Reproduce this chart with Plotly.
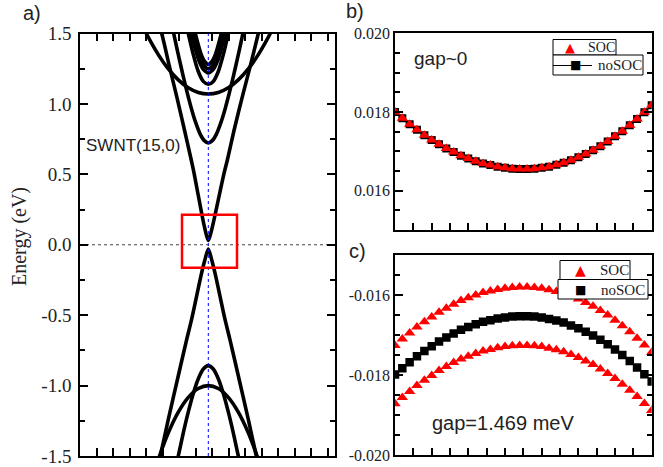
import plotly.graph_objects as go

W, H = 663, 467
SERIF = "Liberation Serif"
SANS = "Liberation Sans"

# ---------------- panel a : band structure (k in arbitrary units, E in eV) -------------
cone_c_k = [-52, -46.6, -39, -31.5, -24, -17, -14, -6.3, -3.3, 0, 3.5, 6.7, 15.5, 19, 26, 34, 42, 50, 54]
cone_c_E = [1.62, 1.5, 1.27, 1.05, 0.82, 0.6, 0.5, 0.21, 0.11, 0.03, 0.11, 0.21, 0.5, 0.6, 0.82, 1.05, 1.27, 1.5, 1.62]

bandB_k = [-39, -36, -33, -29, -25, -21, -17, -13, -8, -4, 0, 4, 8, 13, 17, 21, 25, 29, 33, 36, 39]
bandB_E = [1.65, 1.547, 1.447, 1.318, 1.194, 1.077, 0.970, 0.876, 0.784, 0.739, 0.723,
           0.739, 0.784, 0.876, 0.970, 1.077, 1.194, 1.318, 1.447, 1.547, 1.65]

bandC_k = [-68, -62, -50, -41, -30, -20, -10, 0, 10, 20, 30, 41, 50, 62, 68]
bandC_E = [1.588, 1.5, 1.35, 1.258, 1.171, 1.115, 1.081, 1.07, 1.081, 1.115, 1.171, 1.258, 1.35, 1.5, 1.588]

bandV_k = [-24, -20, -15, -10, -5, 0, 5, 10, 15, 20, 24]
bandV_E = [1.62, 1.5, 1.35, 1.23, 1.16, 1.14, 1.16, 1.23, 1.35, 1.5, 1.62]

bandD1_k = [-20, -17, -13, -9, -5, 0, 5, 9, 13, 17, 20]
bandD1_E = [1.6, 1.5, 1.39, 1.3, 1.245, 1.22, 1.245, 1.3, 1.39, 1.5, 1.6]

bandD2_k = [-18, -15, -12, -8, -4, 0, 4, 8, 12, 15, 18]
bandD2_E = [1.6, 1.5, 1.42, 1.33, 1.27, 1.25, 1.27, 1.33, 1.42, 1.5, 1.6]

bandD3_k = [-16, -13, -10, -7, -3.5, 0, 3.5, 7, 10, 13, 16]
bandD3_E = [1.6, 1.5, 1.42, 1.35, 1.3, 1.28, 1.3, 1.35, 1.42, 1.5, 1.6]

cone_v_k = [-52, -48, -40, -30, -21.7, -16.7, -7, -3.5, 0, 3.5, 7, 16.7, 21.7, 30, 40, 48, 52]
cone_v_E = [-1.62, -1.5, -1.24, -0.93, -0.675, -0.53, -0.21, -0.11, -0.03,
            -0.11, -0.21, -0.53, -0.675, -0.93, -1.24, -1.5, -1.62]

bandF_k = [-33, -30, -25, -20, -15, -10, -5, 0, 5, 10, 15, 20, 25, 30, 33]
bandF_E = [-1.59, -1.5, -1.336, -1.187, -1.056, -0.951, -0.882, -0.858,
           -0.882, -0.951, -1.056, -1.187, -1.336, -1.5, -1.59]

bandE_k = [-55, -50, -40, -30, -20, -10, 0, 10, 20, 30, 40, 50, 55]
bandE_E = [-1.635, -1.525, -1.336, -1.189, -1.084, -1.021, -1.0,
           -1.021, -1.084, -1.189, -1.336, -1.525, -1.635]

a_ticks = [-1.5, -1.0, -0.5, 0.0, 0.5, 1.0, 1.5]
a_ticktext = ["-1.5", "-1.0", "-0.5", "0.0", "0.5", "1.0", "1.5"]

# ---------------- panels b, c : zoom near the gap -------------
k_zoom = [-1.0, -0.943, -0.886, -0.829, -0.771, -0.714, -0.657, -0.6, -0.543, -0.486, -0.429, -0.371,
          -0.314, -0.257, -0.2, -0.143, -0.086, -0.029, 0.029, 0.086, 0.143, 0.2, 0.257, 0.314,
          0.371, 0.429, 0.486, 0.543, 0.6, 0.657, 0.714, 0.771, 0.829, 0.886, 0.943, 1.0]

soc_b = [0.01800, 0.01784, 0.01769, 0.01755, 0.01741, 0.01729, 0.01718, 0.01707, 0.01698, 0.01689,
         0.01682, 0.01675, 0.01669, 0.01665, 0.01661, 0.01658, 0.01656, 0.01655,
         0.01655, 0.01656, 0.01658, 0.01661, 0.01666, 0.01671, 0.01677, 0.01685, 0.01693, 0.01703,
         0.01713, 0.01725, 0.01738, 0.01751, 0.01766, 0.01782, 0.01799, 0.01817]
nosoc_b = [0.01800, 0.01784, 0.01769, 0.01755, 0.01741, 0.01729, 0.01718, 0.01707, 0.01698, 0.01689,
           0.01682, 0.01675, 0.01669, 0.01665, 0.01661, 0.01658, 0.01656, 0.01655,
           0.01655, 0.01656, 0.01658, 0.01661, 0.01666, 0.01671, 0.01677, 0.01685, 0.01693, 0.01703,
           0.01713, 0.01725, 0.01738, 0.01751, 0.01766, 0.01782, 0.01799, 0.01817]

soc_c_upper = [-0.01726, -0.01710, -0.01695, -0.01680, -0.01667, -0.01655, -0.01643, -0.01633, -0.01623,
               -0.01614, -0.01607, -0.01600, -0.01594, -0.01590, -0.01586, -0.01583, -0.01581, -0.01580,
               -0.01580, -0.01581, -0.01583, -0.01587, -0.01591, -0.01596, -0.01603, -0.01610, -0.01619,
               -0.01628, -0.01639, -0.01650, -0.01663, -0.01677, -0.01692, -0.01708, -0.01725, -0.01743]
nosoc_c = [-0.01799, -0.01783, -0.01768, -0.01753, -0.01740, -0.01728, -0.01716, -0.01706, -0.01696,
           -0.01687, -0.01680, -0.01673, -0.01667, -0.01663, -0.01659, -0.01656, -0.01654, -0.01653,
           -0.01653, -0.01654, -0.01656, -0.01660, -0.01664, -0.01669, -0.01676, -0.01683, -0.01692,
           -0.01701, -0.01712, -0.01723, -0.01736, -0.01750, -0.01765, -0.01781, -0.01798, -0.01816]
soc_c_lower = [-0.01872, -0.01856, -0.01841, -0.01826, -0.01813, -0.01801, -0.01789, -0.01779, -0.01769,
               -0.01760, -0.01753, -0.01746, -0.01740, -0.01736, -0.01732, -0.01729, -0.01727, -0.01726,
               -0.01726, -0.01727, -0.01729, -0.01733, -0.01737, -0.01742, -0.01749, -0.01756, -0.01765,
               -0.01774, -0.01785, -0.01796, -0.01809, -0.01823, -0.01838, -0.01854, -0.01871, -0.01889]

b_ticks = [0.016, 0.018, 0.020]
b_ticktext = ["0.016", "0.018", "0.020"]
c_ticks = [-0.020, -0.018, -0.016]
c_ticktext = ["-0.020", "-0.018", "-0.016"]

legend_labels = ["SOC", "noSOC"]


def px_x(v):
    return v / W


def px_y(v):
    return 1 - v / H


fig = go.Figure()

bands = [(bandC_k, bandC_E), (bandB_k, bandB_E), (bandV_k, bandV_E), (bandD1_k, bandD1_E),
         (bandD2_k, bandD2_E), (bandD3_k, bandD3_E), (cone_c_k, cone_c_E),
         (cone_v_k, cone_v_E), (bandF_k, bandF_E), (bandE_k, bandE_E)]
for kk, ee in bands:
    fig.add_trace(go.Scatter(x=kk, y=ee, mode="lines", xaxis="x", yaxis="y",
                             line=dict(color="black", width=3.6, shape="spline", smoothing=0.8),
                             showlegend=False, hoverinfo="skip"))

# panel b
fig.add_trace(go.Scatter(x=k_zoom, y=nosoc_b, mode="lines+markers", xaxis="x2", yaxis="y2",
                         name=legend_labels[1], showlegend=False,
                         line=dict(color="black", width=1),
                         marker=dict(symbol="square", size=8, color="black")))
fig.add_trace(go.Scatter(x=k_zoom, y=soc_b, mode="markers", xaxis="x2", yaxis="y2",
                         name=legend_labels[0], showlegend=False,
                         marker=dict(symbol="triangle-up", size=10, color="#ff0000")))

# panel c
fig.add_trace(go.Scatter(x=k_zoom, y=nosoc_c, mode="markers", xaxis="x3", yaxis="y3",
                         name=legend_labels[1], showlegend=False,
                         marker=dict(symbol="square", size=8.5, color="black")))
fig.add_trace(go.Scatter(x=k_zoom, y=soc_c_upper, mode="markers", xaxis="x3", yaxis="y3",
                         name=legend_labels[0], showlegend=False,
                         marker=dict(symbol="triangle-up", size=10, color="#ff0000")))
fig.add_trace(go.Scatter(x=k_zoom, y=soc_c_lower, mode="markers", xaxis="x3", yaxis="y3",
                         name=legend_labels[0], showlegend=False,
                         marker=dict(symbol="triangle-up", size=10, color="#ff0000")))

axis_common = dict(showgrid=False, zeroline=False, showline=True, linecolor="black", linewidth=1.5,
                   ticks="inside", tickcolor="black", tickwidth=1.5, automargin=False)

fig.update_layout(
    template="none",
    width=W, height=H, autosize=False,
    margin=dict(l=0, r=0, t=0, b=0, pad=0),
    paper_bgcolor="white", plot_bgcolor="white",
    font=dict(family=SERIF, size=16, color="#222"),
    showlegend=False,
    xaxis=dict(axis_common, domain=[px_x(80), px_x(335)], range=[-128.3, 126.7],
               showticklabels=False, ticklen=8, tick0=-111.6, dtick=16.5, mirror="ticks",
               anchor="y"),
    yaxis=dict(axis_common, domain=[px_y(456), px_y(33.5)], range=[-1.5, 1.5],
               tickmode="array", tickvals=a_ticks, ticktext=a_ticktext, ticklen=8, mirror="ticks",
               tickfont=dict(family=SERIF, size=19, color="#222"), ticklabelstandoff=3,
               minor=dict(dtick=0.25, tick0=0, ticks="inside", ticklen=5, tickcolor="black", tickwidth=1.5),
               anchor="x"),
    xaxis2=dict(axis_common, domain=[px_x(395), px_x(651.7)], range=[-1, 1],
                showticklabels=False, ticklen=7, tick0=-1, dtick=2 / 14, mirror=True, anchor="y2"),
    yaxis2=dict(axis_common, domain=[px_y(230), px_y(33.3)], range=[0.015, 0.020],
                tickmode="array", tickvals=b_ticks, ticktext=b_ticktext, ticklen=8, mirror="ticks",
                tickfont=dict(family=SERIF, size=16, color="#222"),
                minor=dict(dtick=0.0005, tick0=0.015, ticks="inside", ticklen=5, tickcolor="black", tickwidth=1.5),
                anchor="x2"),
    xaxis3=dict(axis_common, domain=[px_x(395), px_x(651.7)], range=[-1, 1],
                showticklabels=False, ticklen=7, tick0=-1, dtick=2 / 14, mirror=True, anchor="y3"),
    yaxis3=dict(axis_common, domain=[px_y(455), px_y(255)], range=[-0.020, -0.015],
                tickmode="array", tickvals=c_ticks, ticktext=c_ticktext, ticklen=8, mirror="ticks",
                tickfont=dict(family=SERIF, size=16, color="#222"),
                minor=dict(dtick=0.0005, tick0=-0.020, ticks="inside", ticklen=5, tickcolor="black", tickwidth=1.5),
                anchor="x3"),
)

# reference lines and the zoom box in panel a
fig.add_shape(type="line", xref="x", yref="y domain", x0=0, x1=0, y0=0, y1=1,
              line=dict(color="blue", width=1, dash="dot"))
fig.add_shape(type="line", xref="x domain", yref="y", x0=0, x1=1, y0=0, y1=0,
              line=dict(color="#444", width=1, dash="dot"), layer="below")
fig.add_shape(type="rect", xref="x", yref="y", x0=-26.3, x1=28.7, y0=-0.163, y1=0.213,
              line=dict(color="#ff0000", width=2.5))

# hand-built legends (each entry in its own framed box, as in the original)
legend_boxes = [  # (x0, y0, x1, y1) in pixels
    (553, 39.5, 616, 55),
    (553, 55, 643, 75),
    (560, 260.5, 630, 279.5),
    (558, 279.5, 648, 299),
]
for x0, y0, x1, y1 in legend_boxes:
    fig.add_shape(type="rect", xref="paper", yref="paper",
                  x0=px_x(x0), x1=px_x(x1), y0=px_y(y1), y1=px_y(y0),
                  line=dict(color="black", width=1), fillcolor="white", layer="above")
# noSOC legend line in panel b
fig.add_shape(type="line", xref="paper", yref="paper", x0=px_x(553), x1=px_x(592),
              y0=px_y(65.5), y1=px_y(65.5), line=dict(color="black", width=1))

legend_entries = [  # (symbol, colour, size, sx, sy, label, tx, font size)
    ("▲", "#ff0000", 13, 570, 47.5, legend_labels[0], 586, 14),
    ("■", "black", 12, 575, 65.5, legend_labels[1], 596, 15),
    ("▲", "#ff0000", 14, 580, 270, legend_labels[0], 598, 15),
    ("■", "black", 12, 580, 289.5, legend_labels[1], 599, 15),
]
for sym, col, sz, sx, sy, lab, tx, fs in legend_entries:
    fig.add_annotation(text=sym, xref="paper", yref="paper", x=px_x(sx), y=px_y(sy),
                       xanchor="center", yanchor="middle", showarrow=False,
                       font=dict(family="DejaVu Sans", size=sz, color=col))
    fig.add_annotation(text=lab, xref="paper", yref="paper", x=px_x(tx), y=px_y(sy),
                       xanchor="left", yanchor="middle", showarrow=False,
                       font=dict(family=SERIF, size=fs, color="#222"))

ann = [
    dict(text="a)", x=px_x(21), y=px_y(13), font=dict(family=SANS, size=20, color="#222")),
    dict(text="b)", x=px_x(344), y=px_y(11), font=dict(family=SANS, size=20, color="#222")),
    dict(text="c)", x=px_x(347), y=px_y(251), font=dict(family=SANS, size=20, color="#222")),
    dict(text="SWNT(15,0)", x=px_x(84), y=px_y(145), font=dict(family=SANS, size=17, color="#222")),
    dict(text="gap~0", x=px_x(412), y=px_y(58), font=dict(family=SANS, size=19, color="#222")),
    dict(text="gap=1.469 meV", x=px_x(430), y=px_y(423), font=dict(family=SANS, size=20, color="#222")),
]
for a in ann:
    fig.add_annotation(xref="paper", yref="paper", xanchor="left", yanchor="middle",
                       showarrow=False, **a)
fig.add_annotation(text="Energy (eV)", xref="paper", yref="paper", x=px_x(20), y=px_y(237),
                   xanchor="center", yanchor="middle", textangle=-90, showarrow=False,
                   font=dict(family=SERIF, size=20, color="#222"))

# remove the browser's default page margin so the 663x467 figure fills the window exactly
fig.write_html("out.html",
               config={"displayModeBar": False},
               post_script="document.body.style.margin='0';document.body.style.overflow='hidden';")
